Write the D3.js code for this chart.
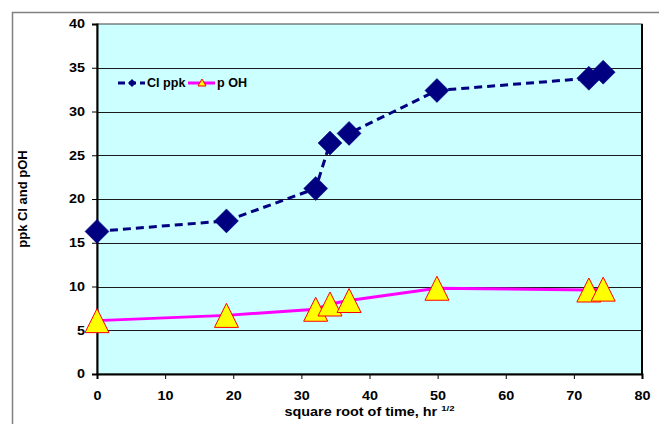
<!DOCTYPE html>
<html>
<head>
<meta charset="utf-8">
<script src="https://cdn.jsdelivr.net/npm/d3@7"></script>
<style>
  body { margin: 0; background: #fff; }
  text { font-family: "Liberation Sans", Arial, sans-serif; font-weight: bold; }
</style>
</head>
<body>
<script>
// data
let rootTime = [0, 19, 32.1, 34.2, 37, 49.9, 72.2, 74.3];
let clPpk    = [16.3, 17.5, 21.2, 26.4, 27.5, 32.4, 33.8, 34.5];
let pOH      = [6.1, 6.7, 7.4, 8.0, 8.4, 9.8, 9.6, 9.7];
let xTicks   = [0, 10, 20, 30, 40, 50, 60, 70, 80];
let yTicks   = [0, 5, 10, 15, 20, 25, 30, 35, 40];
let gridVals = [5, 10, 15, 20, 25, 30, 35];

let w = 659, h = 424;
let plotL = 97, plotR = 642, plotT = 24, plotB = 374;

// the original's lettering is a bit wider than plain Arial
function stretch(sel, k) {
    sel.each(function () {
        let t = d3.select(this);
        let x0 = +t.attr("x") || 0;
        t.attr("transform", `matrix(${k},0,0,1,${x0 * (1 - k)},0)`);
    });
}

let svg = d3.select("body").append("svg")
    .attr("width", w)
    .attr("height", h);

// outer chart frame
svg.append("path")
    .attr("d", `M12.5,${h} V12.5 H${w}`)
    .attr("fill", "none")
    .attr("stroke", "#808080")
    .attr("stroke-width", 1.5);

let x = d3.scaleLinear().domain([0, 80]).range([plotL, plotR]);
let y = d3.scaleLinear().domain([0, 40]).range([plotB, plotT]);

// plot area
svg.append("rect")
    .attr("x", plotL).attr("y", plotT)
    .attr("width", plotR - plotL).attr("height", plotB - plotT)
    .attr("fill", "#CCFFFF")
    .attr("stroke", "#404040")
    .attr("stroke-width", 1);

svg.append("line")
    .attr("x1", plotR).attr("x2", plotR)
    .attr("y1", plotT).attr("y2", plotB)
    .attr("stroke", "#000").attr("stroke-width", 2);

// gridlines
svg.selectAll(".grid")
    .data(gridVals)
    .enter()
    .append("line")
        .attr("class", "grid")
        .attr("x1", plotL).attr("x2", plotR)
        .attr("y1", d => Math.round(y(d)) + 0.5)
        .attr("y2", d => Math.round(y(d)) + 0.5)
        .attr("stroke", "#1a1a1a")
        .attr("stroke-width", 1);

// axes
let xAxis = d3.axisBottom(x).tickValues(xTicks).tickSize(5).tickPadding(12);
let yAxis = d3.axisLeft(y).tickValues(yTicks).tickSize(5).tickPadding(7);

let gx = svg.append("g")
    .attr("transform", `translate(0,${plotB})`)
    .call(xAxis);
let gy = svg.append("g")
    .attr("transform", `translate(${plotL},0)`)
    .call(yAxis);

[gx, gy].forEach(g => {
    g.select(".domain").attr("stroke", "#000").attr("stroke-width", 2);
    g.selectAll(".tick line").attr("stroke", "#000").attr("stroke-width", 1);
    g.selectAll(".tick text")
        .attr("font-size", "12px")
        .attr("fill", "#000")
        .call(stretch, 1.2);
});

// lines
let seriesLine = d3.line()
    .x((d, i) => x(rootTime[i]))
    .y(d => y(d));

svg.append("path")
    .datum(clPpk)
    .attr("d", seriesLine)
    .attr("fill", "none")
    .attr("stroke", "#000080")
    .attr("stroke-width", 3)
    .attr("stroke-dasharray", "8,5");

svg.selectAll(".cl")
    .data(clPpk)
    .enter()
    .append("path")
        .attr("class", "cl")
        .attr("transform", (d, i) => `translate(${x(rootTime[i])},${y(d)})`)
        .attr("d", "M0,-12 L12,0 L0,12 L-12,0 Z")
        .attr("fill", "#000080")
        .attr("stroke", "#000080")
        .attr("stroke-width", 0.5);

svg.append("path")
    .datum(pOH)
    .attr("d", seriesLine)
    .attr("fill", "none")
    .attr("stroke", "#FF00FF")
    .attr("stroke-width", 3);

svg.selectAll(".oh")
    .data(pOH)
    .enter()
    .append("path")
        .attr("class", "oh")
        .attr("transform", (d, i) => `translate(${x(rootTime[i])},${y(d)})`)
        .attr("d", "M0,-12 L12,12 L-12,12 Z")
        .attr("fill", "#FFFF00")
        .attr("stroke", "#FF0000")
        .attr("stroke-width", 1);

// legend
let lg = svg.append("g").attr("transform", "translate(115,70)");
lg.append("rect")
    .attr("width", 132).attr("height", 26)
    .attr("fill", "#CCFFFF");
lg.append("line")
    .attr("x1", 3).attr("x2", 30).attr("y1", 13).attr("y2", 13)
    .attr("stroke", "#000080").attr("stroke-width", 3)
    .attr("stroke-dasharray", "7,4");
lg.append("path")
    .attr("transform", "translate(17,13)")
    .attr("d", "M0,-4 L4,0 L0,4 L-4,0 Z")
    .attr("fill", "#000080");
lg.append("text")
    .attr("x", 32).attr("y", 17)
    .attr("font-size", "12px")
    .text("Cl ppk")
    .call(stretch, 1.05);
lg.append("line")
    .attr("x1", 73).attr("x2", 100).attr("y1", 13).attr("y2", 13)
    .attr("stroke", "#FF00FF").attr("stroke-width", 3);
lg.append("path")
    .attr("transform", "translate(87,13)")
    .attr("d", "M0,-4 L4,3 L-4,3 Z")
    .attr("fill", "#FFFF00")
    .attr("stroke", "#FF0000")
    .attr("stroke-width", 1);
lg.append("text")
    .attr("x", 102).attr("y", 17)
    .attr("font-size", "12px")
    .text("p OH")
    .call(stretch, 1.05);

// axis titles
let xt = svg.append("text")
    .attr("x", (plotL + plotR) / 2)
    .attr("y", 416)
    .attr("text-anchor", "middle")
    .attr("font-size", "12px");
xt.append("tspan").text("square root of time, hr ");
xt.append("tspan")
    .attr("font-size", "8px")
    .attr("dy", -5)
    .text("1/2");
xt.call(stretch, 1.2);

svg.append("text")
    .attr("transform", `translate(26.5,${(plotT + plotB) / 2}) rotate(-90)`)
    .attr("text-anchor", "middle")
    .attr("font-size", "13px")
    .text("ppk Cl and pOH");
</script>
</body>
</html>
